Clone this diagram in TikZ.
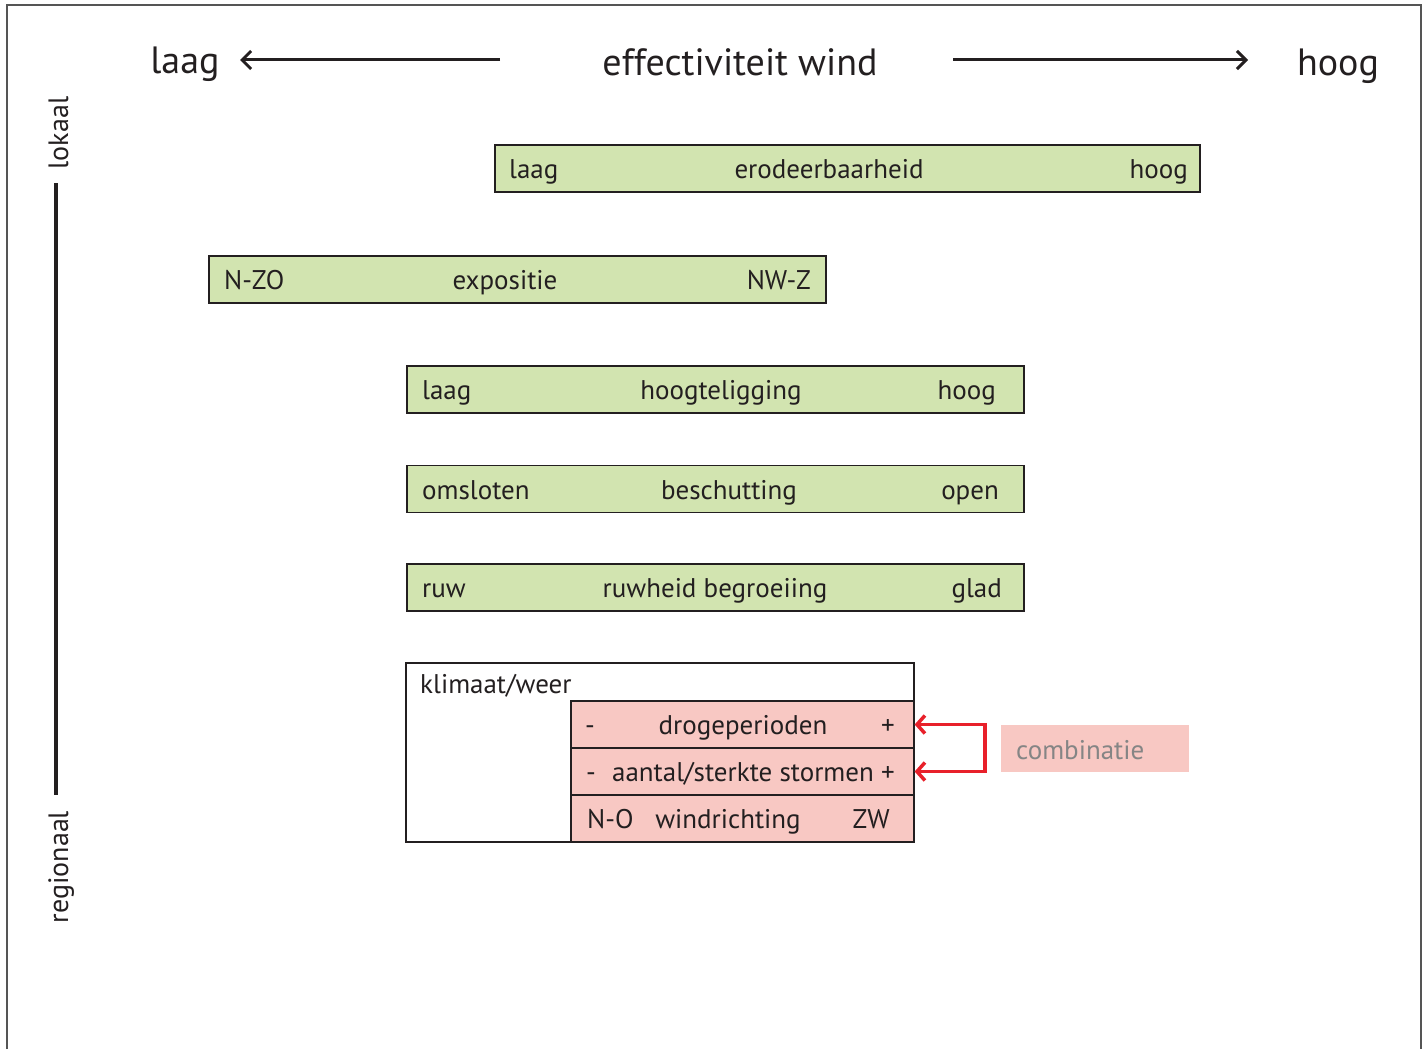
\documentclass[tikz,border=0pt]{standalone}
\usepackage{fontspec}
\setmainfont{PT Sans}
\usetikzlibrary{arrows.meta}
\definecolor{ink}{HTML}{231F20}
\definecolor{framegray}{HTML}{555555}
\definecolor{boxgreen}{HTML}{D2E4B0}
\definecolor{boxpink}{HTML}{F8C8C3}
\definecolor{arrowred}{HTML}{E8202A}
\definecolor{labelgray}{HTML}{858585}
\begin{document}
\begin{tikzpicture}[x=1pt,y=-1pt,
  bigtxt/.style={font=\fontsize{38}{44}\selectfont, text=ink, inner sep=0pt},
  axtxt/.style={font=\fontsize{28}{32}\selectfont, text=ink, inner sep=0pt, rotate=90},
  btxt/.style={font=\fontsize{27}{31}\selectfont, text=ink, inner sep=0pt},
  gbox/.style={draw=ink, line width=1.2pt, fill=boxgreen, minimum height=47, inner sep=0pt},
  pbox/.style={draw=ink, line width=1.2pt, fill=boxpink, minimum width=343, minimum height=47, inner sep=0pt},
  wbox/.style={draw=ink, line width=1.2pt, fill=white, minimum width=508, minimum height=179, inner sep=0pt},
  axarrow/.style={draw=ink, line width=3pt, -{Straight Barb[length=9pt,width=18pt,line width=3pt]}},
  redarrow/.style={draw=arrowred, line width=3.5pt, -{Straight Barb[length=8pt,width=18pt,line width=3.5pt]}},
  redline/.style={draw=arrowred, line width=3.5pt}
]
\useasboundingbox (0,0) rectangle (1426,1049);
% frame
\draw[framegray, line width=1.5pt] (7,1049) -- (7,5) -- (1421,5) -- (1421,1049);

% top axis
\node[bigtxt, anchor=base] (laagtop) at (185,74) {laag};
\node[bigtxt, anchor=base] (efftxt) at (740,75) {effectiviteit wind};
\node[bigtxt, anchor=base] (hoogtop) at (1338,75) {hoog};
\coordinate (la) at (500,60);
\coordinate (lb) at (240,60);
\coordinate (ra) at (953,60);
\coordinate (rb) at (1248,60);
\draw[axarrow] (la) -- (lb);
\draw[axarrow] (ra) -- (rb);

% vertical axis
\node[axtxt, anchor=base] (lokaal) at (68,133) {lokaal};
\node[axtxt, anchor=base] (regionaal) at (68,867) {regionaal};
\coordinate (va) at (56,183);
\coordinate (vb) at (56,795);
\draw[ink, line width=3.5pt] (va) -- (vb);

% green boxes
\node[gbox, minimum width=705] (b1) at (847.5,168.5) {};
\node[btxt, anchor=base west] (b1l) at (509,178) {laag};
\node[btxt, anchor=base] (b1m) at (829,178) {erodeerbaarheid};
\node[btxt, anchor=base east] (b1r) at (1188,178) {hoog};

\node[gbox, minimum width=617] (b2) at (517.5,279.5) {};
\node[btxt, anchor=base west] (b2l) at (224,289) {N-ZO};
\node[btxt, anchor=base] (b2m) at (505,289) {expositie};
\node[btxt, anchor=base east] (b2r) at (811,289) {NW-Z};

\node[gbox, minimum width=617] (b3) at (715.5,389.5) {};
\node[btxt, anchor=base west] (b3l) at (422,399) {laag};
\node[btxt, anchor=base] (b3m) at (721,399) {hoogteligging};
\node[btxt, anchor=base east] (b3r) at (996,399) {hoog};

\node[gbox, minimum width=617] (b4) at (715.5,489) {};
\node[btxt, anchor=base west] (b4l) at (422,499) {omsloten};
\node[btxt, anchor=base] (b4m) at (729,499) {beschutting};
\node[btxt, anchor=base east] (b4r) at (999,499) {open};

\node[gbox, minimum width=617] (b5) at (715.5,587.5) {};
\node[btxt, anchor=base west] (b5l) at (422,597) {ruw};
\node[btxt, anchor=base] (b5m) at (715,597) {ruwheid begroeiing};
\node[btxt, anchor=base east] (b5r) at (1002,597) {glad};

% klimaat box
\node[wbox] (kw) at (660,752.5) {};
\node[btxt, anchor=base west] (kwt) at (420,693) {klimaat/weer};
\node[pbox] (r1) at (742.5,724.5) {};
\node[pbox] (r2) at (742.5,771.5) {};
\node[pbox] (r3) at (742.5,818.5) {};
\node[btxt, anchor=base] (r1l) at (590,734) {-};
\node[btxt, anchor=base] (r1m) at (743,734) {drogeperioden};
\node[btxt, anchor=base] (r1r) at (888,734) {+};
\node[btxt, anchor=base] (r2l) at (591,781) {-};
\node[btxt, anchor=base] (r2m) at (743,781) {aantal/sterkte stormen};
\node[btxt, anchor=base] (r2r) at (888,781) {+};
\node[btxt, anchor=base west] (r3l) at (587,828) {N-O};
\node[btxt, anchor=base] (r3m) at (728,828) {windrichting};
\node[btxt, anchor=base east] (r3r) at (890,828) {ZW};

% combinatie
\node[fill=boxpink, minimum width=188, minimum height=47, inner sep=0pt] (comb) at (1095,748.5) {};
\node[btxt, text=labelgray, anchor=base west] (combt) at (1016,759) {combinatie};
\coordinate (j1) at (985,724.5);
\coordinate (j2) at (985,771.5);
\draw[redline, line cap=butt] ([yshift=1.75pt]j1) -- ([yshift=-1.75pt]j2);
\draw[redarrow] (j1) -- (r1.east);
\draw[redarrow] (j2) -- (r2.east);
\end{tikzpicture}
\end{document}
